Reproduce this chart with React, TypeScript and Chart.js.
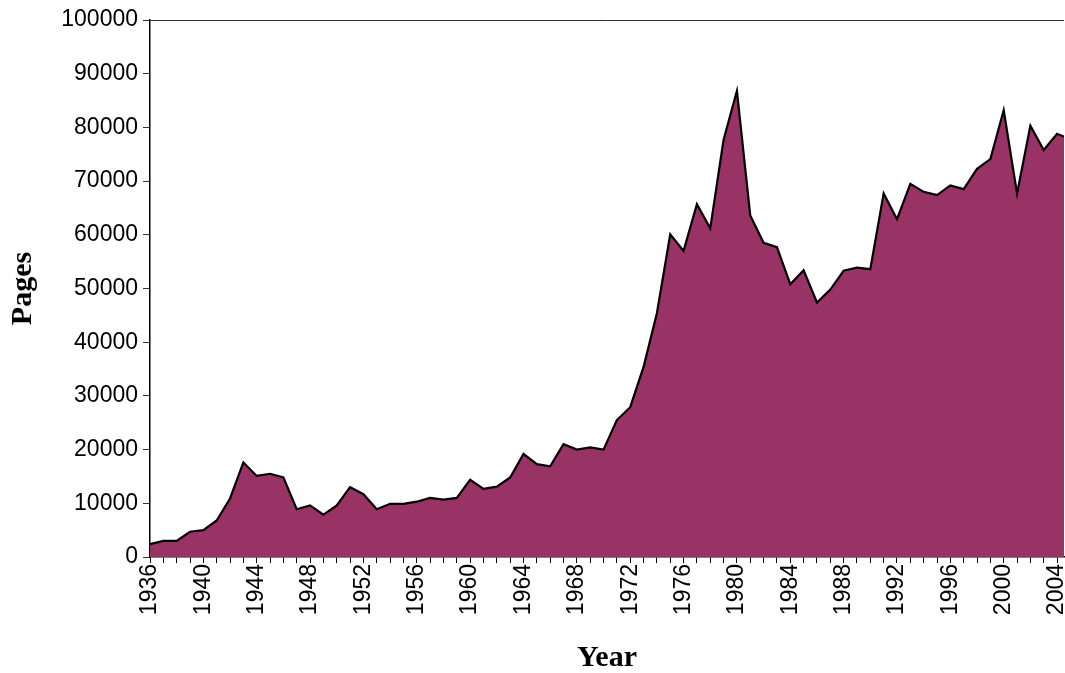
import React, { useEffect, useRef } from "react";
import { Chart, registerables } from "chart.js";

Chart.register(...registerables);

const years: number[] = [
  1936, 1937, 1938, 1939, 1940, 1941, 1942, 1943, 1944, 1945,
  1946, 1947, 1948, 1949, 1950, 1951, 1952, 1953, 1954, 1955,
  1956, 1957, 1958, 1959, 1960, 1961, 1962, 1963, 1964, 1965,
  1966, 1967, 1968, 1969, 1970, 1971, 1972, 1973, 1974, 1975,
  1976, 1977, 1978, 1979, 1980, 1981, 1982, 1983, 1984, 1985,
  1986, 1987, 1988, 1989, 1990, 1991, 1992, 1993, 1994, 1995,
  1996, 1997, 1998, 1999, 2000, 2001, 2002, 2003, 2004, 2005,
];

const pages: number[] = [
  2400, 3000, 3000, 4700, 5000, 6800, 10900, 17600, 15100, 15500,
  14800, 8900, 9600, 7900, 9600, 13000, 11700, 8900, 9900, 9900,
  10300, 11000, 10700, 11000, 14400, 12700, 13100, 14800, 19200, 17300,
  16900, 21000, 20000, 20400, 20000, 25500, 27900, 35400, 45400, 60100,
  57000, 65700, 61200, 77700, 86800, 63600, 58500, 57700, 50800, 53400,
  47400, 49800, 53300, 53900, 53600, 67700, 62900, 69500, 68000, 67400,
  69200, 68500, 72300, 74100, 83200, 67700, 80300, 75800, 78800, 77800,
];

const yTicks: number[] = [0, 10000, 20000, 30000, 40000, 50000, 60000, 70000, 80000, 90000, 100000];
const xFirstYear = 1936;
const xLastTickYear = 2004;
const xLabelStep = 4;

export default function App() {
  const ref = useRef<HTMLCanvasElement | null>(null);

  useEffect(() => {
    if (!ref.current) return;
    const chart = new Chart(ref.current, {
      type: "line",
      data: {
        datasets: [
          {
            data: years.map((y, i) => ({ x: y, y: pages[i] })),
            fill: "origin",
            backgroundColor: "#993366",
            borderColor: "#000000",
            borderWidth: 2.2,
            pointRadius: 0,
            tension: 0,
          },
        ],
      },
      options: {
        animation: false,
        responsive: false,
        layout: { padding: { top: 20, left: 0, right: 1, bottom: 0 } },
        plugins: { legend: { display: false }, tooltip: { enabled: false } },
        scales: {
          x: {
            type: "linear",
            min: xFirstYear,
            max: 2004.52,
            afterBuildTicks: (scale: any) => {
              const t: any[] = [];
              for (let v = xFirstYear; v <= xLastTickYear; v++) t.push({ value: v });
              scale.ticks = t;
            },
            afterFit: (scale: any) => {
              scale.height = 116;
              scale.paddingLeft = 0;
              scale.paddingRight = 0;
            },
            ticks: {
              autoSkip: false,
              maxRotation: 90,
              minRotation: 90,
              padding: 1,
              color: "#000",
              font: { family: "'Liberation Sans', Arial, sans-serif", size: 23 },
              callback: (v: any) => ((v - xFirstYear) % xLabelStep === 0 ? String(v) : ""),
            },
            grid: {
              drawOnChartArea: false,
              tickLength: 6,
              tickColor: "#000",
              color: "#000",
            },
            border: { display: true, color: "#000", width: 1.5 },
            title: {
              display: true,
              text: "Year",
              color: "#000",
              font: { family: "'Liberation Serif', 'Times New Roman', serif", size: 30, weight: "bold", lineHeight: 1.0 },
              padding: { top: 0, bottom: 0 },
            },
          },
          y: {
            min: 0,
            max: 100000,
            afterBuildTicks: (scale: any) => {
              scale.ticks = yTicks.map((v) => ({ value: v }));
            },
            afterFit: (scale: any) => {
              scale.width = 150;
              scale.paddingTop = 0;
              scale.paddingBottom = 0;
            },
            ticks: {
              padding: 5,
              color: "#000",
              font: { family: "'Liberation Sans', Arial, sans-serif", size: 23 },
              callback: (v: any) => String(v),
            },
            grid: {
              drawOnChartArea: true,
              tickLength: 7,
              tickColor: "#333",
              color: (ctx: any) => (ctx.tick && ctx.tick.value === 100000 ? "#333" : "rgba(0,0,0,0)"),
              lineWidth: 1,
            },
            border: { display: true, color: "#000", width: 1.5 },
            title: {
              display: true,
              text: "Pages",
              color: "#000",
              font: { family: "'Liberation Serif', 'Times New Roman', serif", size: 30, weight: "bold" },
              padding: { top: 5, bottom: 0 },
            },
          },
        },
      },
    });
    return () => chart.destroy();
  }, []);

  return (
    <div style={{ position: "absolute", left: 0, top: 0, width: 1065, height: 673, background: "#fff" }}>
      <canvas ref={ref} width={1065} height={673} />
    </div>
  );
}
